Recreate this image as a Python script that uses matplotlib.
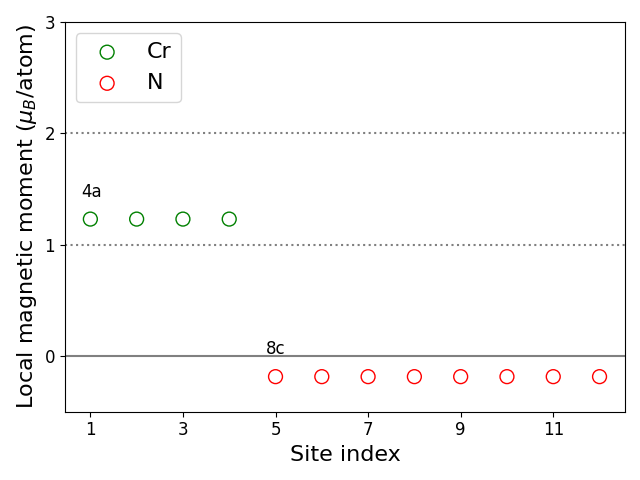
import matplotlib
matplotlib.use("Agg")
import matplotlib.pyplot as plt

cr_sites = [1, 2, 3, 4]
cr_moments = [1.23, 1.23, 1.23, 1.23]
n_sites = [5, 6, 7, 8, 9, 10, 11, 12]
n_moments = [-0.185] * 8
xticks = [1, 3, 5, 7, 9, 11]
yticks = [0, 1, 2, 3]

fig, ax = plt.subplots(figsize=(6.4, 4.8), dpi=100)
ax.scatter(cr_sites, cr_moments, s=100, facecolors='none', edgecolors='green', label='Cr')
ax.scatter(n_sites, n_moments, s=100, facecolors='none', edgecolors='red', label='N')
ax.axhline(0, color='gray', lw=1.5)
ax.axhline(1, color='gray', ls=':', lw=1.5)
ax.axhline(2, color='gray', ls=':', lw=1.5)
ax.text(cr_sites[0] - 0.2, cr_moments[0] + 0.2, '4a', fontsize=12)
ax.text(n_sites[0] - 0.2, n_moments[0] + 0.2, '8c', fontsize=12)
ax.set_ylim(-0.5, 3)
ax.set_xticks(xticks)
ax.set_yticks(yticks)
ax.tick_params(labelsize=12)
ax.set_xlabel('Site index', fontsize=16)
ax.set_ylabel(r'Local magnetic moment ($\mu_B$/atom)', fontsize=16)
ax.legend(fontsize=16, loc='upper left')
fig.tight_layout()
fig.savefig('out.png')
